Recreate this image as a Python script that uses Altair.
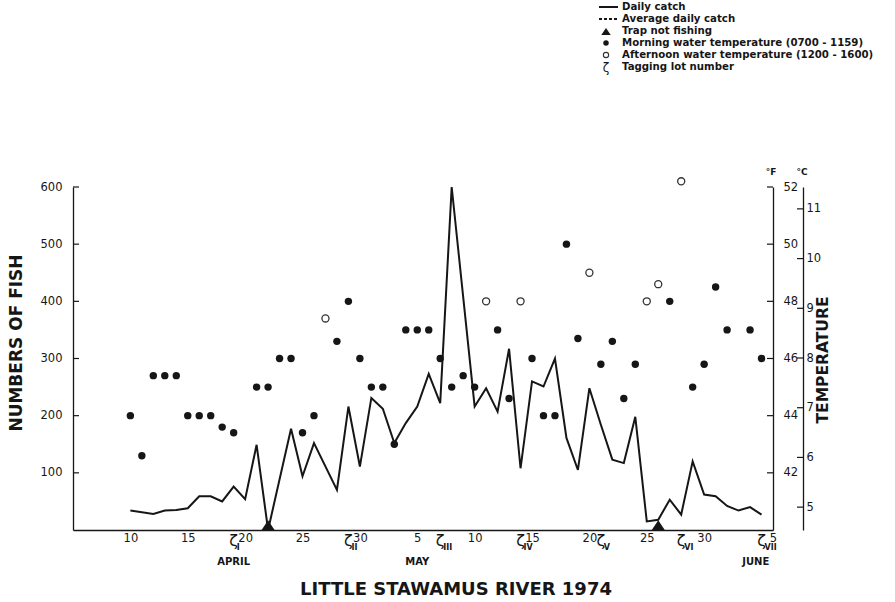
import altair as alt
import pandas as pd

# Day numbers are counted from 1 April 1974 (10 = April 10, 31 = May 1, 62 = June 1).
catch_day = [10, 12, 13, 14, 15, 16, 17, 18, 19, 20, 21, 22, 24, 25, 26, 28, 29, 30,
             31, 32, 33, 34, 35, 36, 37, 38, 40, 41, 42, 43, 44, 45, 46, 47, 48, 49,
             50, 51, 52, 53, 54, 55, 56, 57, 58, 59, 60, 61, 62, 63, 64, 65]
catch_fish = [34, 28, 34, 35, 38, 59, 59, 50, 76, 54, 149, 0, 177, 94, 152, 70, 216, 111,
              231, 212, 152, 187, 216, 273, 222, 600, 216, 248, 207, 317, 108, 260, 251, 300,
              161, 105, 248, 184, 123, 117, 198, 15, 18, 53, 27, 120, 62, 59, 42, 34, 40, 27]

morning_day = [10, 11, 12, 13, 14, 15, 16, 17, 18, 19, 21, 22, 23, 24, 25, 26, 28, 29, 30,
               31, 32, 33, 34, 35, 36, 37, 38, 39, 40, 42, 43, 45, 46, 47, 48, 49, 51, 52,
               53, 54, 57, 59, 60, 61, 62, 64, 65]
morning_temp_f = [44.0, 42.6, 45.4, 45.4, 45.4, 44.0, 44.0, 44.0, 43.6, 43.4, 45.0, 45.0,
                  46.0, 46.0, 43.4, 44.0, 46.6, 48.0, 46.0, 45.0, 45.0, 43.0, 47.0, 47.0,
                  47.0, 46.0, 45.0, 45.4, 45.0, 47.0, 44.6, 46.0, 44.0, 44.0, 50.0, 46.7,
                  45.8, 46.6, 44.6, 45.8, 48.0, 45.0, 45.8, 48.5, 47.0, 47.0, 46.0]

afternoon_day = [27, 41, 44, 50, 55, 56, 58]
afternoon_temp_f = [47.4, 48.0, 48.0, 49.0, 48.0, 48.6, 52.2]

trap_off_day = [22, 56]

tag_day = [19, 29, 37, 44, 51, 58, 65]
tag_lot = ["I", "II", "III", "IV", "V", "VI", "VII"]

month_name = ["APRIL", "MAY", "JUNE"]
month_day = [19, 35, 64.5]

x_tick_days = [10, 15, 20, 25, 30, 35, 40, 45, 50, 55, 60, 66]
fish_ticks = [100, 200, 300, 400, 500, 600]
temp_f_ticks = [42, 44, 46, 48, 50, 52]
temp_c_ticks = [5, 6, 7, 8, 9, 10, 11]

legend_labels = ["Daily catch", "Average daily catch", "Trap not fishing",
                 "Morning water temperature (0700 - 1159)",
                 "Afternoon water temperature (1200 - 1600)", "Tagging lot number"]

W, H = 700, 343
FONT = "DejaVu Sans"
INK = "#161616"
TRIANGLE = "M-1,0L1,0L0,-1.5Z"

x_scale = alt.Scale(domain=[5, 66], nice=False, zero=False)
fish_scale = alt.Scale(domain=[0, 600], nice=False)
f_scale = alt.Scale(domain=[40, 52], nice=False, zero=False)
c_scale = alt.Scale(domain=[4.54, 11.44], nice=False, zero=False)

common_axis = dict(domainColor=INK, domainWidth=1.3, labelColor=INK, labelFont=FONT,
                   labelFontSize=11.5, grid=False, ticks=False, title=None)

x_axis = alt.Axis(values=x_tick_days, labelPadding=2, labelFlush=False,
                  labelExpr="datum.value <= 30 ? datum.value : (datum.value <= 61 ? datum.value - 30 : datum.value - 61)",
                  **common_axis)
fish_axis = alt.Axis(values=fish_ticks, labelPadding=11, orient="left", **common_axis)
f_axis = alt.Axis(values=temp_f_ticks, labelPadding=10, orient="right", **common_axis)
c_axis = alt.Axis(values=temp_c_ticks, labelPadding=3, orient="right", offset=30, **common_axis)

X = alt.X("day:Q", scale=x_scale, axis=x_axis)

catch_df = pd.DataFrame({"day": catch_day, "fish": catch_fish})
morning_df = pd.DataFrame({"day": morning_day, "temp": morning_temp_f})
afternoon_df = pd.DataFrame({"day": afternoon_day, "temp": afternoon_temp_f})
trap_df = pd.DataFrame({"day": trap_off_day, "fish": [0] * len(trap_off_day)})
tag_df = pd.DataFrame({"day": tag_day, "lot": tag_lot})
month_df = pd.DataFrame({"day": month_day, "name": month_name})

# --- catch (numbers of fish) ---
catch_line = alt.Chart(catch_df).mark_line(color=INK, strokeWidth=2).encode(
    x=X, y=alt.Y("fish:Q", scale=fish_scale, axis=fish_axis))
trap_marks = alt.Chart(trap_df).mark_point(shape=TRIANGLE, filled=True, size=169,
                                           color=INK, opacity=1).encode(
    x=X, y=alt.Y("fish:Q", scale=fish_scale, axis=fish_axis))
fish_tick_marks = alt.Chart(pd.DataFrame({"v": fish_ticks})).mark_rule(
    color=INK, strokeWidth=1.2).encode(
    y=alt.Y("v:Q", scale=fish_scale, axis=fish_axis), x=alt.value(0), x2=alt.value(6))

fish_group = alt.layer(catch_line, trap_marks, fish_tick_marks)

# --- water temperature, deg F ---
morning_pts = alt.Chart(morning_df).mark_point(filled=True, size=55, color=INK, opacity=1).encode(
    x=X, y=alt.Y("temp:Q", scale=f_scale, axis=f_axis))
afternoon_pts = alt.Chart(afternoon_df).mark_point(filled=False, size=50, color="#333",
                                                    strokeWidth=1.3, opacity=1).encode(
    x=X, y=alt.Y("temp:Q", scale=f_scale, axis=f_axis))
f_tick_marks = alt.Chart(pd.DataFrame({"v": temp_f_ticks})).mark_rule(
    color=INK, strokeWidth=1.2).encode(
    y=alt.Y("v:Q", scale=f_scale, axis=f_axis), x=alt.value(W - 6), x2=alt.value(W))

f_group = alt.layer(morning_pts, afternoon_pts, f_tick_marks)

# --- companion deg C scale ---
c_tick_marks = alt.Chart(pd.DataFrame({"v": temp_c_ticks})).mark_rule(
    color=INK, strokeWidth=1.2).encode(
    y=alt.Y("v:Q", scale=c_scale, axis=c_axis), x=alt.value(W + 24), x2=alt.value(W + 30))

# --- annotations below the x axis ---
tag_hooks = alt.Chart(tag_df).mark_text(font=FONT, fontSize=16, color=INK,
                                        baseline="middle", align="center").encode(
    x=X, y=alt.value(H + 11), text=alt.value("ζ"))
tag_numbers = alt.Chart(tag_df).mark_text(font=FONT, fontSize=8, fontWeight="bold", color=INK,
                                          baseline="middle", align="left", dx=3).encode(
    x=X, y=alt.value(H + 18), text="lot:N")
month_labels = alt.Chart(month_df).mark_text(font=FONT, fontSize=10, fontWeight="bold",
                                             color=INK, baseline="middle").encode(
    x=X, y=alt.value(H + 32), text="name:N")


def label(text, x, y, size, angle=0, weight="normal", align="center"):
    return alt.Chart(pd.DataFrame({"t": [text]})).mark_text(
        font=FONT, fontSize=size, fontWeight=weight, color=INK, angle=angle,
        align=align, baseline="middle").encode(
        x=alt.value(x), y=alt.value(y), text="t:N")


titles = [
    label("LITTLE STAWAMUS RIVER 1974", 383, H + 60, 18, weight="bold"),
    label("NUMBERS OF FISH", -56, 156, 17, angle=270, weight="bold"),
    label("TEMPERATURE", 750, 173, 15.5, angle=270, weight="bold"),
    label("°F", 698, -15, 9, weight="bold"),
    label("°C", 729, -15, 9, weight="bold"),
]

# --- key ---
row_y = [-180, -168, -156, -144, -132, -120]
sym_x = 536
text_x = 549
key = []
for yy, txt in zip(row_y, legend_labels):
    key.append(label(txt, text_x, yy, 10.2, weight="bold", align="left"))
key.append(alt.Chart(pd.DataFrame({"k": [0]})).mark_rule(color=INK, strokeWidth=2).encode(
    x=alt.value(sym_x - 10), x2=alt.value(sym_x + 9), y=alt.value(row_y[0])))
key.append(alt.Chart(pd.DataFrame({"k": [0]})).mark_rule(color=INK, strokeWidth=2,
                                                         strokeDash=[3, 2]).encode(
    x=alt.value(sym_x - 10), x2=alt.value(sym_x + 9), y=alt.value(row_y[1])))
key.append(alt.Chart(pd.DataFrame({"k": [0]})).mark_point(shape=TRIANGLE, filled=True, size=90,
                                                          color=INK, opacity=1).encode(
    x=alt.value(sym_x - 3), y=alt.value(row_y[2] + 4)))
key.append(alt.Chart(pd.DataFrame({"k": [0]})).mark_point(filled=True, size=30, color=INK,
                                                          opacity=1).encode(
    x=alt.value(sym_x - 3), y=alt.value(row_y[3])))
key.append(alt.Chart(pd.DataFrame({"k": [0]})).mark_point(filled=False, size=28, color="#333",
                                                          strokeWidth=1.1, opacity=1).encode(
    x=alt.value(sym_x - 3), y=alt.value(row_y[4])))
key.append(label("ζ", sym_x - 3, row_y[5] + 1, 12))

chart = alt.layer(
    alt.layer(fish_group, tag_hooks, tag_numbers, month_labels, *titles, *key),
    f_group,
    c_tick_marks,
).resolve_scale(y="independent").properties(
    width=W, height=H,
    autosize=alt.AutoSizeParams(type="none"),
    padding={"left": 73, "top": 187, "right": 122, "bottom": 72},
    background="white",
).configure_view(strokeWidth=0)

chart.save("out.html", embed_options={"renderer": "svg", "actions": False})
